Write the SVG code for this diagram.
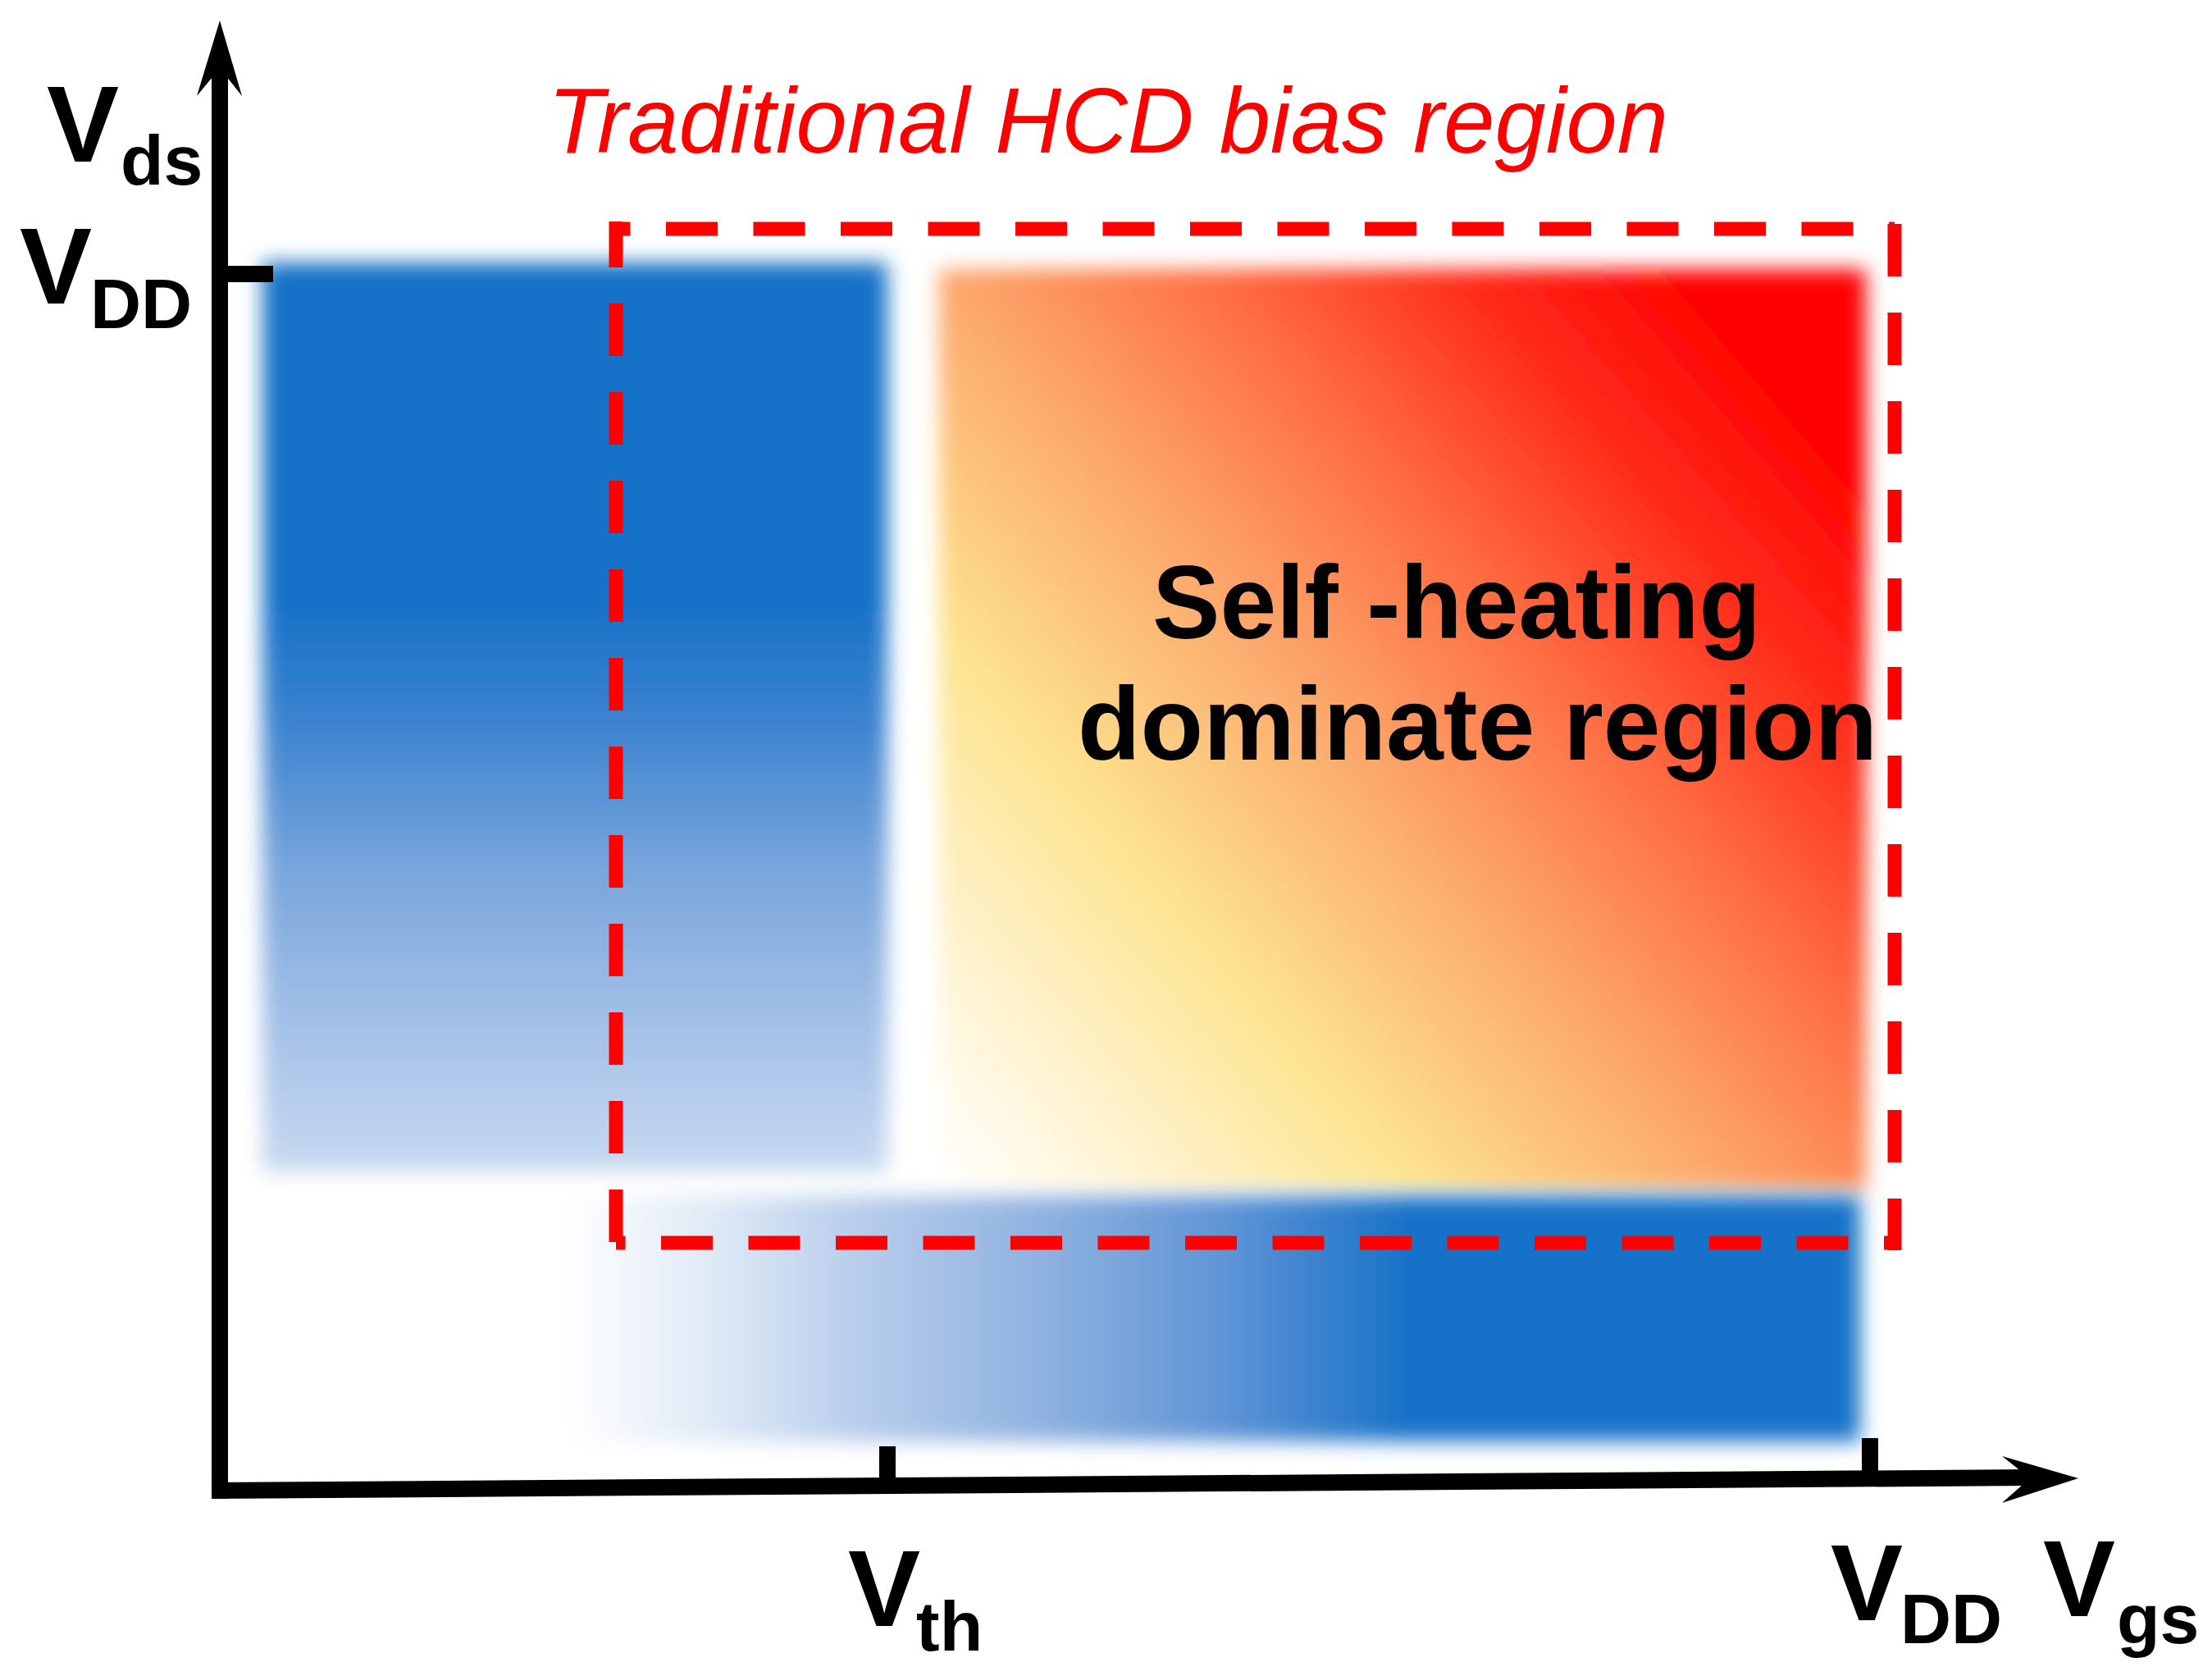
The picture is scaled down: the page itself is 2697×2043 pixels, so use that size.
<svg xmlns="http://www.w3.org/2000/svg" width="2697" height="2043" viewBox="0 0 2697 2043">
<defs>
<style>
.lbl{font-family:"Liberation Sans",Arial,sans-serif;font-weight:bold;fill:#000}
.big{font-size:132px}
.sub{font-size:86px}
.box{fill:none;stroke:#ff0000;stroke-width:17}
.ax{stroke:#000;stroke-width:20;fill:none}
</style>
<filter id="soft" x="-10%" y="-10%" width="120%" height="120%">
<feGaussianBlur stdDeviation="12"/>
</filter>
<linearGradient id="blueV" x1="0" y1="0" x2="0" y2="1">
<stop offset="0" stop-color="#1872c8"/>
<stop offset="0.38" stop-color="#1872c8"/>
<stop offset="0.5" stop-color="#3a82cf"/>
<stop offset="0.665" stop-color="#78a5db"/>
<stop offset="0.85" stop-color="#a6c2e8"/>
<stop offset="1" stop-color="#c8d9f0"/>
</linearGradient>
<linearGradient id="blueH" gradientUnits="userSpaceOnUse" x1="689" y1="0" x2="2268" y2="0">
<stop offset="0" stop-color="#ffffff"/>
<stop offset="0.12" stop-color="#dde8f5"/>
<stop offset="0.226" stop-color="#b8cdeb"/>
<stop offset="0.368" stop-color="#8fb2e0"/>
<stop offset="0.509" stop-color="#5f94d6"/>
<stop offset="0.65" stop-color="#1872c8"/>
<stop offset="1" stop-color="#1872c8"/>
</linearGradient>
<linearGradient id="heat" gradientUnits="userSpaceOnUse" x1="1145" y1="1450" x2="2352" y2="415">
<stop offset="0" stop-color="#ffffff"/>
<stop offset="0.1" stop-color="#fff6dc"/>
<stop offset="0.28" stop-color="#fde490"/>
<stop offset="0.46" stop-color="#fca86c"/>
<stop offset="0.62" stop-color="#ff6c42"/>
<stop offset="0.76" stop-color="#ff2c1a"/>
<stop offset="0.88" stop-color="#ff0602"/>
<stop offset="1" stop-color="#ff0000"/>
</linearGradient>
</defs>
<rect width="2697" height="2043" fill="#ffffff"/>

<g id="regions">
<g id="off-region">
<rect x="320" y="320" width="762" height="1108" fill="url(#blueV)" filter="url(#soft)"/>
</g>
<g id="self-heating-region">
<rect x="1145" y="328" width="1130" height="1122" fill="url(#heat)" filter="url(#soft)"/>
</g>
<g id="low-vds-region">
<rect x="640" y="1458" width="1628" height="299" fill="url(#blueH)" filter="url(#soft)"/>
</g>
</g>

<g id="hcd-box">
<line class="box" x1="751" y1="279" x2="2310" y2="279" stroke-dasharray="63 43.5" stroke-dashoffset="45.5"/>
<line class="box" x1="751" y1="1515" x2="2310" y2="1515" stroke-dasharray="63 43.5" stroke-dashoffset="51.5"/>
<line class="box" x1="751" y1="270" x2="751" y2="1524" stroke-dasharray="64 44" stroke-dashoffset="8"/>
<line class="box" x1="2310" y1="270" x2="2310" y2="1524" stroke-dasharray="64 44" stroke-dashoffset="-3"/>
</g>

<g id="axes">
<line class="ax" x1="268" y1="80" x2="268" y2="1827"/>
<line class="ax" x1="258" y1="1817" x2="2478" y2="1801"/>
<path d="M268,25 L295,117 L268,83 L240,117 Z" fill="#000"/>
<path d="M2534,1802 L2441,1832 L2475,1802 L2441,1775 Z" fill="#000"/>
<line class="ax" x1="268" y1="334" x2="333" y2="334" stroke-width="19"/>
<line class="ax" x1="1082" y1="1763" x2="1082" y2="1812"/>
<line class="ax" x1="2280" y1="1753" x2="2280" y2="1806"/>
</g>

<g id="labels">
<g id="label-vds"><text class="lbl big" x="57" y="197">V</text><text class="lbl sub" x="147" y="225">ds</text></g>
<g id="label-vdd-y"><text class="lbl big" x="24" y="370">V</text><text class="lbl sub" x="110" y="400">DD</text></g>
<g id="label-vth"><text class="lbl big" x="1034" y="1982">V</text><text class="lbl sub" x="1117" y="2012">th</text></g>
<g id="label-vdd-x"><text class="lbl big" x="2232" y="1975">V</text><text class="lbl sub" x="2317" y="2003">DD</text></g>
<g id="label-vgs"><text class="lbl big" x="2491" y="1970">V</text><text class="lbl sub" x="2581" y="2003">gs</text></g>
<g id="title"><text x="668" y="186" font-family="'Liberation Sans',Arial,sans-serif" font-style="italic" font-size="114" fill="#ff0000" textLength="1366" lengthAdjust="spacingAndGlyphs">Traditional HCD bias region</text></g>
<g id="heat-label">
<text class="lbl" x="1405" y="778" font-size="126" textLength="742" lengthAdjust="spacingAndGlyphs">Self -heating</text>
<text class="lbl" x="1314" y="926" font-size="126" textLength="975" lengthAdjust="spacingAndGlyphs">dominate region</text>
</g>
</g>
</svg>
